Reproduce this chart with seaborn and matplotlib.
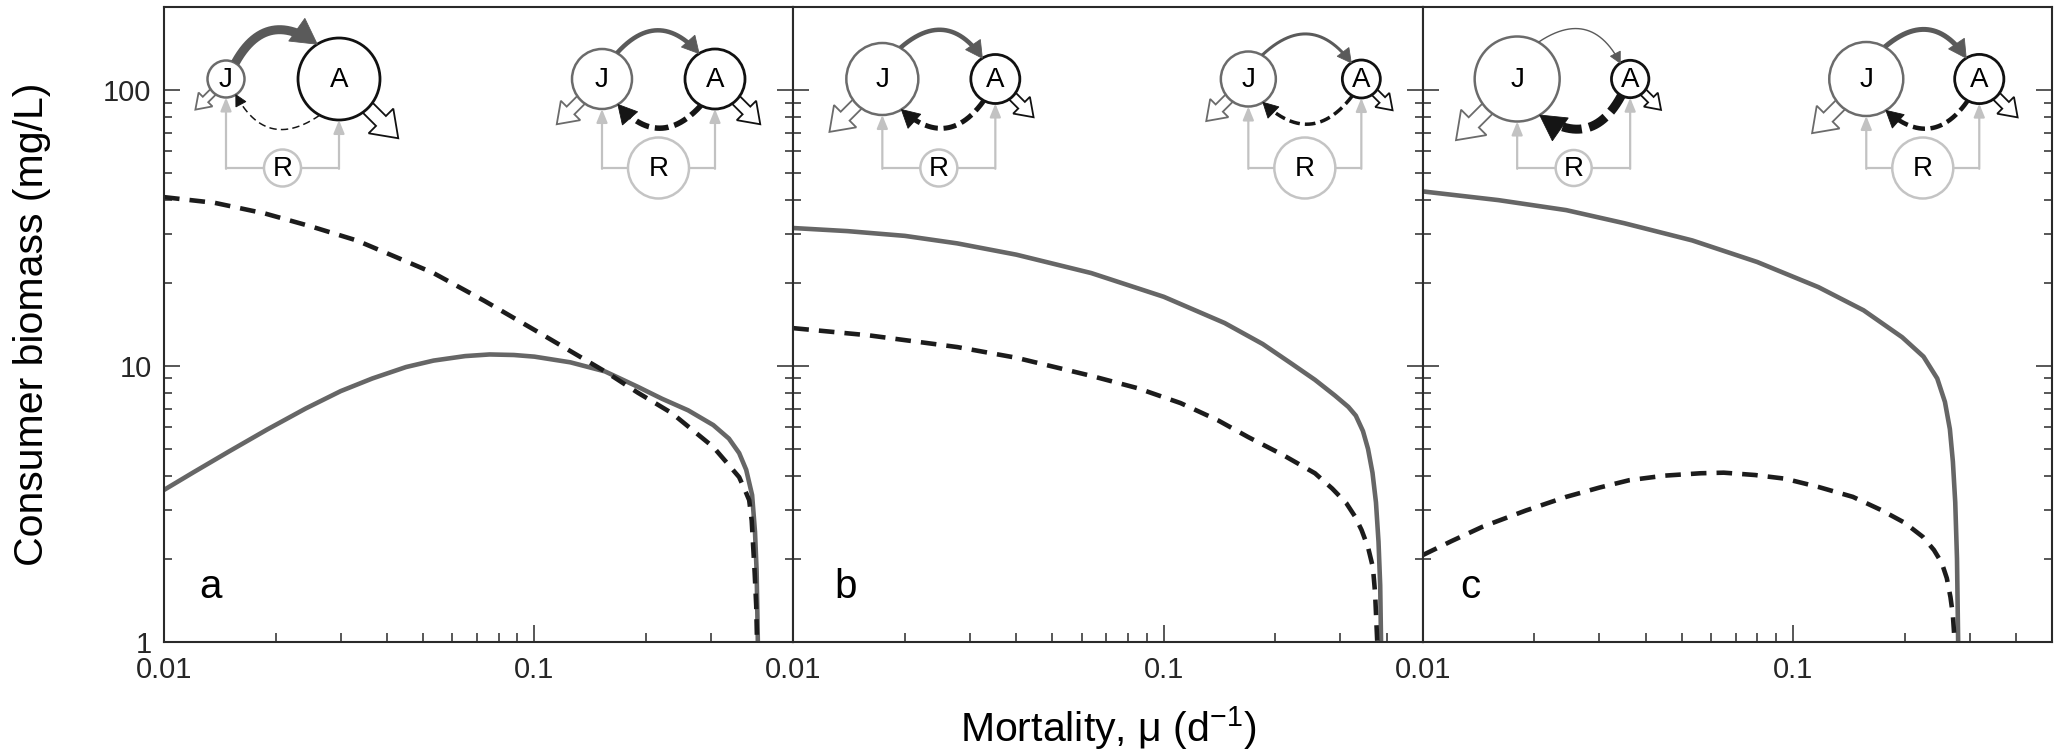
import numpy as np
import pandas as pd
import matplotlib
matplotlib.use("Agg")
import matplotlib.pyplot as plt
import seaborn as sns
from matplotlib import patches as mpatches
from matplotlib.ticker import LogLocator, NullFormatter, FixedLocator, FixedFormatter

# ---------------- data ----------------
panel_letters = ["a", "b", "c"]
x_ticks = [0.01, 0.1]
x_tick_labels = ["0.01", "0.1"]
y_ticks = [1, 10, 100]
y_tick_labels = ["1", "10", "100"]

# panel a
a_juv_mu = [0.0100, 0.0120, 0.0150, 0.0190, 0.0241, 0.0300, 0.0365, 0.0450, 0.0534, 0.0650,
            0.0757, 0.0880, 0.100, 0.125, 0.155, 0.190, 0.221, 0.260, 0.304, 0.335, 0.357,
            0.373, 0.387, 0.394, 0.398, 0.401]
a_juv_B = [3.55, 4.11, 4.90, 5.88, 7.0, 8.1, 9.0, 9.9, 10.45, 10.85,
           11.0, 10.95, 10.8, 10.3, 9.55, 8.4, 7.6, 6.9, 6.1, 5.45, 4.83,
           4.2, 3.4, 2.5, 1.8, 1.0]
a_adu_mu = [0.0100, 0.0137, 0.0187, 0.0250, 0.0331, 0.0420, 0.0534, 0.0733, 0.100, 0.156,
            0.190, 0.235, 0.304, 0.330, 0.357, 0.370, 0.380, 0.386, 0.393, 0.397, 0.399]
a_adu_B = [40.9, 39.0, 35.7, 32.0, 28.5, 24.9, 21.7, 17.2, 13.5, 9.5,
           8.0, 6.74, 5.08, 4.47, 3.95, 3.55, 3.26, 2.75, 1.8, 1.35, 1.0]

# panel b
b_juv_mu = [0.0100, 0.0140, 0.0200, 0.0277, 0.0400, 0.0637, 0.100, 0.146, 0.185, 0.221,
            0.256, 0.290, 0.315, 0.330, 0.345, 0.356, 0.366, 0.374, 0.380, 0.384, 0.386]
b_juv_B = [31.6, 30.8, 29.6, 27.8, 25.3, 21.7, 17.8, 14.3, 12.0, 10.2,
           8.9, 7.8, 7.1, 6.6, 5.8, 5.0, 4.1, 3.2, 2.3, 1.6, 1.0]
b_adu_mu = [0.0100, 0.0160, 0.0277, 0.0400, 0.0637, 0.085, 0.111, 0.140, 0.169, 0.210,
            0.256, 0.285, 0.311, 0.328, 0.342, 0.356, 0.367, 0.372, 0.377]
b_adu_B = [13.7, 12.9, 11.7, 10.7, 9.2, 8.3, 7.33, 6.35, 5.52, 4.75,
           4.08, 3.59, 3.18, 2.85, 2.54, 2.2, 1.86, 1.5, 1.0]

# panel c
c_juv_mu = [0.0100, 0.0160, 0.0244, 0.0350, 0.0534, 0.0800, 0.117, 0.155, 0.197, 0.225,
            0.245, 0.257, 0.265, 0.270, 0.274, 0.277, 0.279]
c_juv_B = [42.9, 39.9, 36.7, 32.9, 28.5, 23.8, 19.3, 15.9, 12.7, 10.8,
           9.0, 7.4, 5.9, 4.5, 3.2, 2.0, 1.0]
c_adu_mu = [0.0100, 0.0120, 0.0145, 0.0190, 0.0244, 0.0300, 0.0361, 0.0450, 0.0563, 0.0650,
            0.0790, 0.0950, 0.117, 0.145, 0.173, 0.200, 0.224, 0.240, 0.252, 0.260, 0.266,
            0.270, 0.273]
c_adu_B = [2.06, 2.32, 2.61, 2.99, 3.35, 3.62, 3.85, 4.0, 4.08, 4.1,
           4.02, 3.9, 3.64, 3.35, 3.0, 2.7, 2.40, 2.15, 1.93, 1.7, 1.45,
           1.25, 1.0]

panels = [
    (a_juv_mu, a_juv_B, a_adu_mu, a_adu_B),
    (b_juv_mu, b_juv_B, b_adu_mu, b_adu_B),
    (c_juv_mu, c_juv_B, c_adu_mu, c_adu_B),
]

# food-web diagrams (two per panel): node radii (px) and flux arrow widths (px)
diag_panel = [0, 0, 1, 1, 2, 2]
diag_jx = [62, 438, 89, 455, 94.5, 443.6]
diag_rJ = [18.5, 30, 36, 27.5, 42.5, 37]
diag_rA = [41, 30, 24.5, 19, 18.7, 24.6]
diag_rR = [18.5, 30.5, 18.5, 30.5, 18, 30.5]
diag_mat = [9, 4.5, 4.5, 3, 1.4, 5]
diag_rep = [1.5, 5.5, 5, 3.5, 9, 4.5]

# ---------------- style ----------------
sns.set_theme(style="ticks")
plt.rcParams["font.family"] = ["Liberation Sans", "DejaVu Sans"]
plt.rcParams["mathtext.fontset"] = "custom"
plt.rcParams["mathtext.rm"] = "Liberation Sans"
plt.rcParams["mathtext.it"] = "Liberation Sans:italic"
plt.rcParams["mathtext.default"] = "regular"

W, H = 2059, 753
fig, axes = plt.subplots(1, 3, figsize=(W / 100, H / 100), dpi=100, sharey=True,
                         gridspec_kw=dict(wspace=0))
fig.subplots_adjust(left=164 / W, right=2052 / W, bottom=(H - 641.7) / H, top=(H - 7) / H)

JUV_C = "#666666"
ADU_C = "#1c1c1c"
SPINE_C = "#2a2a2a"

for i, ax in enumerate(axes):
    jm, jb, am, ab = panels[i]
    df = pd.DataFrame({
        "mu": list(jm) + list(am),
        "B": list(jb) + list(ab),
        "stage": ["J"] * len(jm) + ["A"] * len(am),
    })
    sns.lineplot(data=df, x="mu", y="B", hue="stage", style="stage",
                 palette={"J": JUV_C, "A": ADU_C},
                 dashes={"J": "", "A": (3.4, 2.2)},
                 linewidth=3.3, estimator=None, sort=False, legend=False, ax=ax)
    ax.set_xscale("log")
    ax.set_yscale("log")
    ax.set_xlim(0.01, 0.5)
    ax.set_ylim(1, 200)
    ax.set_xlabel("")
    ax.set_ylabel("")

    ax.xaxis.set_major_locator(FixedLocator(x_ticks))
    ax.xaxis.set_major_formatter(FixedFormatter(x_tick_labels))
    ax.xaxis.set_minor_locator(LogLocator(base=10, subs=np.arange(2, 10) * 1.0, numticks=30))
    ax.xaxis.set_minor_formatter(NullFormatter())
    ax.yaxis.set_major_locator(FixedLocator(y_ticks))
    ax.yaxis.set_major_formatter(FixedFormatter(y_tick_labels))
    ax.yaxis.set_minor_locator(LogLocator(base=10, subs=np.arange(2, 10) * 1.0, numticks=30))
    ax.yaxis.set_minor_formatter(NullFormatter())

    ax.tick_params(axis="x", which="major", direction="in", length=12, width=1.1,
                   bottom=True, top=False, labelsize=21, pad=10, color=SPINE_C)
    ax.tick_params(axis="x", which="minor", direction="in", length=6.5, width=1.1,
                   bottom=True, top=False, color=SPINE_C)
    ax.tick_params(axis="y", which="major", direction="in", length=11.5, width=1.1,
                   left=True, right=True, labelsize=21, pad=9, color=SPINE_C)
    ax.tick_params(axis="y", which="minor", direction="in", length=6, width=1.1,
                   left=True, right=True, color=SPINE_C)
    for s in ax.spines.values():
        s.set_color(SPINE_C)
        s.set_linewidth(1.5)
        s.set_visible(True)

    letter_x = [0.056, 0.066, 0.060][i]
    ax.text(letter_x, 0.069, panel_letters[i], transform=ax.transAxes,
            fontsize=29, va="baseline", ha="left", color="black")

fig.text(1108 / W, 11 / H, r"Mortality, μ (d$^{-1}$)", ha="center", va="baseline",
         fontsize=29.5, color="black")
fig.text(32 / W, (H - 324.5) / H, "Consumer biomass (mg/L)", rotation=90,
         ha="center", va="center", fontsize=29.5, color="black")

# ---------------- diagrams (drawn in panel pixel units, y downward) ----------------
def px_to_pt(v):
    return v * 0.72


def open_arrow(dax, cx, cy, r, sgn, color):
    ang = np.deg2rad(45)
    ux, uy = sgn * np.cos(ang), np.sin(ang)
    start = 0.75 * r
    L = 0.8 * r + 10 + 0.25 * r
    x0, y0 = cx + ux * start, cy + uy * start
    shaft = 0.28 * r + 2.5
    hw = 0.68 * r + 7
    hl = 0.45 * r + 6
    dax.add_patch(mpatches.FancyArrow(x0, y0, ux * L, uy * L, width=shaft, head_width=hw,
                                      head_length=hl, length_includes_head=True,
                                      fc="white", ec=color, lw=1.3, zorder=2,
                                      joinstyle="miter"))


def curved_arrow(dax, p0, p2, bulge_dir, w, color, dashed):
    p0 = np.asarray(p0, float)
    p2 = np.asarray(p2, float)
    d = p2 - p0
    chord = np.linalg.norm(d)
    n = np.array([-d[1], d[0]]) / chord
    if np.sign(n[1]) != bulge_dir:
        n = -n
    c = (p0 + p2) / 2 + n * 2 * 0.28 * chord
    t = np.linspace(0, 1, 300)[:, None]
    pts = (1 - t) ** 2 * p0 + 2 * (1 - t) * t * c + t ** 2 * p2
    u = (p2 - c) / np.linalg.norm(p2 - c)
    hl = 8 + 1.9 * w
    hw = 4 + 1.1 * w
    dist = np.linalg.norm(pts - p2, axis=1)
    seg = pts[dist >= hl * 0.75]
    line, = dax.plot(seg[:, 0], seg[:, 1], color=color, lw=px_to_pt(w),
                     solid_capstyle="butt", zorder=4)
    if dashed:
        dash_px = 5 + 1.6 * w
        gap_px = 3.5 + 0.45 * w
        line.set_dashes((dash_px / w, gap_px / w))
        line.set_dash_capstyle("butt")
    base = p2 - u * hl
    perp = np.array([-u[1], u[0]])
    tri = np.array([p2, base + perp * hw, base - perp * hw])
    dax.add_patch(mpatches.Polygon(tri, closed=True, fc=color, ec=color, lw=0.6, zorder=4))


def draw_diagram(dax, cxJ, rJ, rA, rR, wm, wr):
    cy = 72
    cyR = 161
    cxA = cxJ + 113
    cxR = (cxJ + cxA) / 2
    rc = "#c2c2c2"
    # resource supply
    dax.plot([cxJ, cxR - rR], [cyR, cyR], color=rc, lw=1.6, solid_capstyle="butt", zorder=1)
    dax.plot([cxR + rR, cxA], [cyR, cyR], color=rc, lw=1.6, solid_capstyle="butt", zorder=1)
    for cx, r in ((cxJ, rJ), (cxA, rA)):
        dax.add_patch(mpatches.FancyArrowPatch(
            (cx, cyR + 0.8), (cx, cy + r),
            arrowstyle=f"-|>,head_length={px_to_pt(11)},head_width={px_to_pt(4.5)}",
            mutation_scale=1, color=rc, lw=1.6, shrinkA=0, shrinkB=0, zorder=1))
    # mortality
    open_arrow(dax, cxJ, cy, rJ, -1, "#6b6b6b")
    open_arrow(dax, cxA, cy, rA, 1, "#111111")
    # maturation J -> A (arc over the top)
    a1 = np.deg2rad(60)
    a2 = np.deg2rad(122)
    p1 = (cxJ + rJ * np.cos(a1), cy - rJ * np.sin(a1))
    p2 = (cxA + rA * np.cos(a2), cy - rA * np.sin(a2))
    curved_arrow(dax, p1, p2, -1, wm, "#5a5a5a", False)
    # reproduction A -> J (dashed arc underneath)
    b1 = np.deg2rad(-118)
    b2 = np.deg2rad(-58)
    q1 = (cxA + rA * np.cos(b1), cy - rA * np.sin(b1))
    q2 = (cxJ + rJ * np.cos(b2), cy - rJ * np.sin(b2))
    curved_arrow(dax, q1, q2, 1, wr, "#151515", True)
    # nodes
    for (cx, cyy, r, ec, lw, lab) in ((cxJ, cy, rJ, "#6b6b6b", 1.8, "J"),
                                      (cxA, cy, rA, "#111111", 2.0, "A"),
                                      (cxR, cyR, rR, "#c4c4c4", 1.8, "R")):
        dax.add_patch(mpatches.Ellipse((cx, cyy), 2 * r, 2 * r, fc="white", ec=ec,
                                       lw=lw, zorder=3))
        dax.text(cx, cyy + 1, lab, ha="center", va="center", fontsize=20,
                 color="black", zorder=5)


for i, ax in enumerate(axes):
    pos = ax.get_position()
    dax = fig.add_axes([pos.x0, pos.y0, pos.width, pos.height], zorder=5)
    wpx = pos.width * W
    hpx = pos.height * H
    dax.set_xlim(0, wpx)
    dax.set_ylim(hpx, 0)
    dax.axis("off")
    dax.patch.set_alpha(0)
    for k in range(len(diag_panel)):
        if diag_panel[k] == i:
            draw_diagram(dax, diag_jx[k], diag_rJ[k], diag_rA[k], diag_rR[k],
                         diag_mat[k], diag_rep[k])

fig.savefig("out.png", dpi=100)
